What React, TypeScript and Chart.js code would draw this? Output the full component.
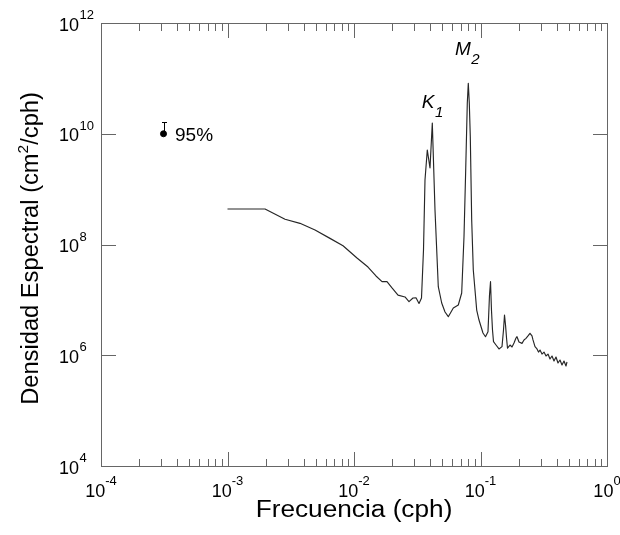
import React, { useEffect, useRef } from 'react';
import { Chart, registerables } from 'chart.js';

Chart.register(...registerables);

// Spectrum (cph) and spectral density (cm^2/cph)
const frequency = [
  0.001, 0.00198, 0.00285, 0.00374, 0.00492, 0.00646, 0.00819, 0.01056, 0.0129, 0.01492,
  0.01665, 0.01823, 0.01997, 0.02228, 0.0253, 0.02721, 0.02927, 0.03091, 0.03265, 0.03417,
  0.03543, 0.03641, 0.03797, 0.03988, 0.04159, 0.04368, 0.04638, 0.04935, 0.05242, 0.05565,
  0.06096, 0.06675, 0.07101, 0.07405, 0.07638, 0.07864, 0.08008, 0.08155, 0.08305, 0.08519,
  0.08771, 0.09332, 0.09731, 0.1046, 0.1095, 0.1146, 0.1178, 0.12, 0.1221, 0.1244,
  0.1267, 0.1326, 0.14, 0.1479, 0.152, 0.1548, 0.1577, 0.1606, 0.1635, 0.1711,
  0.1775, 0.184, 0.1908, 0.1943, 0.2015, 0.2128, 0.2207, 0.2289, 0.2374, 0.2462,
  0.2553, 0.26, 0.2697, 0.2797, 0.2874, 0.2954, 0.3063, 0.3177, 0.3294, 0.3417,
  0.3543, 0.3675, 0.3811, 0.3952, 0.4099, 0.425, 0.4408, 0.4571, 0.474, 0.4827,
];
const density = [
  4.38e8, 4.38e8, 2.85e8, 2.41e8, 1.83e8, 1.29e8, 9.51e7, 5.7e7, 3.92e7, 2.7e7,
  2.13e7, 2.13e7, 1.64e7, 1.22e7, 1.13e7, 9.27e6, 1.08e7, 1.09e7, 8.6e6, 1.08e7,
  7.96e7, 1.46e9, 5.09e9, 2.41e9, 1.56e10, 4.2e8, 1.73e7, 8.78e6, 6.04e6, 4.97e6,
  7.13e6, 8.08e6, 1.33e7, 1.38e8, 2.22e9, 3.59e10, 8.15e10, 3.59e10, 8.85e9, 2.77e8,
  3.46e7, 6.56e6, 4.33e6, 2.52e6, 2.16e6, 2.66e6, 1.22e7, 2.13e7, 6.56e6, 2.86e6,
  1.76e6, 1.53e6, 1.3e6, 1.43e6, 2.86e6, 5.33e6, 3.52e6, 2.05e6, 1.34e6, 1.53e6,
  1.41e6, 1.66e6, 2.05e6, 2.16e6, 1.73e6, 1.64e6, 1.89e6, 2.02e6, 2.23e6, 2.49e6,
  2.23e6, 1.89e6, 1.43e6, 1.3e6, 1.14e6, 1.24e6, 1.05e6, 1.14e6, 9.69e5, 1.05e6,
  8.56e5, 9.69e5, 7.87e5, 9.3e5, 7.24e5, 8.21e5, 6.66e5, 7.87e5, 6.39e5, 7.55e5,
];

// 95% confidence marker
const ciFrequency = [3.12e-4];
const ciCenter = [1e10];
const ciUpper = [1.65e10];
const ciLabel = '95%';

// Peak labels
const peakNames = ['K', 'M'];
const peakSubs = ['1', '2'];
const peakFrequency = [0.0343, 0.0628];
const peakDensity = [2.9e10, 2.64e11];

// Axes
const xMin = 1e-4;
const xMax = 1;
const yMin = 1e4;
const yMax = 1e12;
const xTickExponents = [-4, -3, -2, -1, 0];
const yTickExponents = [4, 6, 8, 10, 12];
const xMinorMultipliers = [1, 2, 3, 4, 5, 6, 7, 8, 9];
const xTitle = 'Frecuencia (cph)';
const yTitleA = 'Densidad Espectral (cm';
const yTitleSup = '2';
const yTitleB = '/cph)';

const FONT = '"Liberation Sans", Arial, Helvetica, sans-serif';
const FRAME = '#666666';

function drawFrameAndTicks(chart: any) {
  const ctx: CanvasRenderingContext2D = chart.ctx;
  const xs = chart.scales.x;
  const ys = chart.scales.y;
  const L = Math.round(xs.getPixelForValue(xMin));
  const R = Math.round(xs.getPixelForValue(xMax));
  const T = Math.round(ys.getPixelForValue(yMax));
  const B = Math.round(ys.getPixelForValue(yMin));
  ctx.save();
  ctx.strokeStyle = FRAME;
  ctx.lineWidth = 1;
  ctx.beginPath();
  ctx.rect(L + 0.5, T + 0.5, R - L, B - T);
  for (const e of xTickExponents) {
    for (const m of xMinorMultipliers) {
      const v = m * Math.pow(10, e);
      if (v > xMax * 1.0001) break;
      const px = Math.round(xs.getPixelForValue(v)) + 0.5;
      const len = m === 1 ? 14 : 7;
      ctx.moveTo(px, B);
      ctx.lineTo(px, B - len);
      ctx.moveTo(px, T + 1);
      ctx.lineTo(px, T + 1 + len);
    }
  }
  for (const e of yTickExponents) {
    const py = Math.round(ys.getPixelForValue(Math.pow(10, e))) + 0.5;
    ctx.moveTo(L, py);
    ctx.lineTo(L + 15, py);
    ctx.moveTo(R + 1, py);
    ctx.lineTo(R + 1 - 15, py);
  }
  ctx.stroke();
  ctx.restore();
}

const decorPlugin = {
  id: 'decor',
  afterDraw(chart: any) {
    drawFrameAndTicks(chart);
    const ctx: CanvasRenderingContext2D = chart.ctx;
    const xs = chart.scales.x;
    const ys = chart.scales.y;
    const left = xs.getPixelForValue(xMin);
    const right = xs.getPixelForValue(xMax);
    const top = ys.getPixelForValue(yMax);
    const bottom = ys.getPixelForValue(yMin);
    ctx.save();
    ctx.fillStyle = '#000';
    ctx.textBaseline = 'alphabetic';
    const baseFont = `18px ${FONT}`;
    const expFont = `13px ${FONT}`;
    // x tick labels
    for (const e of xTickExponents) {
      const px = xs.getPixelForValue(Math.pow(10, e));
      ctx.font = baseFont;
      const w1 = ctx.measureText('10').width;
      ctx.font = expFont;
      const es = String(e);
      const w2 = ctx.measureText(es).width;
      const start = px - (w1 + w2) / 2;
      ctx.font = baseFont;
      ctx.textAlign = 'left';
      ctx.fillText('10', start, bottom + 31);
      ctx.font = expFont;
      ctx.fillText(es, start + w1, bottom + 19);
    }
    // y tick labels
    for (const e of yTickExponents) {
      const py = ys.getPixelForValue(Math.pow(10, e));
      const xr = left - 22;
      ctx.font = baseFont;
      ctx.textAlign = 'right';
      ctx.fillText('10', xr, py + 7.5);
      ctx.font = expFont;
      ctx.textAlign = 'left';
      ctx.fillText(String(e), xr + 0.5, py - 4);
    }
    // x title
    ctx.save();
    ctx.font = `23px ${FONT}`;
    ctx.textAlign = 'center';
    ctx.translate((left + right) / 2, bottom + 51);
    ctx.scale(1.14, 1);
    ctx.fillText(xTitle, 0, 0);
    ctx.restore();
    // y title
    ctx.save();
    const titleFont = `23px ${FONT}`;
    const supFont = `15px ${FONT}`;
    ctx.font = titleFont;
    const wa = ctx.measureText(yTitleA).width;
    const wb = ctx.measureText(yTitleB).width;
    ctx.font = supFont;
    const ws = ctx.measureText(yTitleSup).width;
    const total = wa + wb + ws;
    ctx.translate(38, (top + bottom) / 2 + 4);
    ctx.rotate(-Math.PI / 2);
    ctx.scale(1.03, 1);
    ctx.textAlign = 'left';
    let cx = -total / 2;
    ctx.font = titleFont;
    ctx.fillText(yTitleA, cx, 0);
    cx += wa;
    ctx.font = supFont;
    ctx.fillText(yTitleSup, cx, -10);
    cx += ws;
    ctx.font = titleFont;
    ctx.fillText(yTitleB, cx, 0);
    ctx.restore();
    // peak labels
    for (let i = 0; i < peakNames.length; i++) {
      const px = xs.getPixelForValue(peakFrequency[i]);
      const py = ys.getPixelForValue(peakDensity[i]);
      ctx.textAlign = 'left';
      ctx.font = `italic 19px ${FONT}`;
      ctx.fillText(peakNames[i], px, py);
      const w = ctx.measureText(peakNames[i]).width;
      ctx.font = `italic 15px ${FONT}`;
      ctx.fillText(peakSubs[i], px + w + 0.5, py + 9);
    }
    // 95% confidence bar
    for (let i = 0; i < ciFrequency.length; i++) {
      const px = Math.round(xs.getPixelForValue(ciFrequency[i]));
      const p0 = Math.round(ys.getPixelForValue(ciCenter[i]));
      const p1 = Math.round(ys.getPixelForValue(ciUpper[i]));
      ctx.fillStyle = '#000';
      ctx.fillRect(px, p1, 1, p0 - p1);
      ctx.fillRect(px - 2, p1, 5, 1);
      ctx.font = `19px ${FONT}`;
      ctx.textAlign = 'left';
      ctx.fillText(ciLabel, px + 11, p0 + 7);
    }
    ctx.restore();
  },
};

const axis = (min: number, max: number) => ({
  type: 'logarithmic',
  min,
  max,
  grid: { display: false, drawTicks: false },
  border: { display: false },
  ticks: { display: false },
  title: { display: false },
});

export default function App() {
  const ref = useRef<HTMLCanvasElement>(null);
  useEffect(() => {
    const canvas = ref.current;
    if (!canvas) return;
    const chart = new Chart(canvas, {
      type: 'line',
      data: {
        datasets: [
          {
            type: 'line',
            data: frequency.map((f, i) => ({ x: f, y: density[i] })),
            borderColor: '#262626',
            borderWidth: 1.15,
            pointRadius: 0,
            tension: 0,
            fill: false,
            borderJoinStyle: 'round',
          },
          {
            type: 'line',
            data: ciFrequency.map((f, i) => ({ x: f, y: ciCenter[i] })),
            borderColor: '#000',
            pointRadius: 3,
            pointBackgroundColor: '#000',
            showLine: false,
          },
        ],
      },
      options: {
        responsive: false,
        animation: false,
        devicePixelRatio: 1,
        layout: { padding: { left: 101, right: 13, top: 23, bottom: 69 } },
        plugins: { legend: { display: false }, tooltip: { enabled: false } },
        scales: {
          x: axis(xMin, xMax),
          y: axis(yMin, yMax),
        },
      },
      plugins: [decorPlugin],
    } as any);
    return () => chart.destroy();
  }, []);
  return (
    <div style={{ position: 'absolute', left: 0, top: 0, width: 620, height: 535, background: '#fff' }}>
      <canvas ref={ref} width={620} height={535} style={{ display: 'block' }} />
    </div>
  );
}
